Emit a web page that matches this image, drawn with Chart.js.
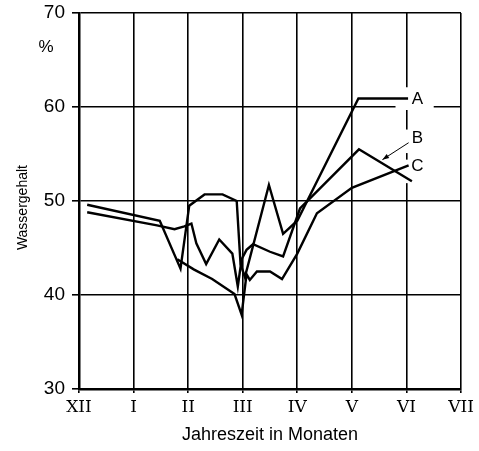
<!DOCTYPE html>
<html>
<head>
<meta charset="utf-8">
<script src="https://cdn.jsdelivr.net/npm/chart.js@4.4.1/dist/chart.umd.min.js"></script>
<style>
  html, body { margin: 0; padding: 0; background: #fff; }
  #wrap { width: 479px; height: 451px; }
</style>
</head>
<body>
<div id="wrap"><canvas id="waterChart" width="479" height="451"></canvas></div>
<script>
// months counted from December (0 = XII, 1 = I, ...)
const monthLabels = ["XII", "I", "II", "III", "IV", "V", "VI", "VII"];
const yTicks = [30, 40, 50, 60, 70];

// curve A
const aX = [0.15, 1.48, 1.86, 2.02, 2.30, 2.63, 2.89, 2.96, 3.04, 3.48, 3.74, 4.00, 5.12, 6.03];
const aY = [49.6, 47.9, 42.8, 49.5, 50.7, 50.7, 50.0, 43.3, 41.9, 51.7, 46.5, 47.9, 60.9, 60.9];

// curve B
const bX = [0.15, 1.43, 1.75, 1.93, 2.06, 2.15, 2.33, 2.57, 2.81, 2.91, 2.98, 3.07, 3.19, 3.50, 3.74, 4.05, 5.13, 6.10];
const bY = [48.8, 47.4, 47.0, 47.3, 47.6, 45.5, 43.3, 45.9, 44.4, 40.9, 43.8, 44.8, 45.4, 44.6, 44.1, 49.2, 55.5, 52.1];

// curve C
const cX = [1.80, 2.11, 2.44, 2.85, 2.98, 3.07, 3.13, 3.26, 3.50, 3.72, 4.00, 4.36, 5.00, 6.04];
const cY = [43.8, 42.7, 41.7, 40.1, 37.9, 42.2, 41.6, 42.5, 42.5, 41.7, 44.4, 48.7, 51.4, 53.8];

function pts(xs, ys) {
  return xs.map((x, i) => ({ x: x, y: ys[i] }));
}

function lineSet(label, xs, ys) {
  return {
    label: label,
    data: pts(xs, ys),
    borderColor: "#000",
    borderWidth: 2.4,
    pointRadius: 0,
    tension: 0,
    fill: false
  };
}

// white breaks in the grid around the curve labels, then the labels themselves
const annotations = {
  id: "annotations",
  beforeDatasetsDraw(chart) {
    const { ctx, scales: { x, y } } = chart;
    const vi = x.getPixelForValue(6);
    ctx.save();
    ctx.fillStyle = "#fff";
    [[62.1, 59.8], [57.6, 55.1], [54.4, 51.9]].forEach(([top, bot]) => {
      const t = y.getPixelForValue(top), b = y.getPixelForValue(bot);
      ctx.fillRect(vi - 3, t, 6, b - t);
    });
    const g0 = x.getPixelForValue(5.8), g1 = x.getPixelForValue(6.5);
    const y60 = y.getPixelForValue(60);
    ctx.fillRect(g0, y60 - 3, g1 - g0, 6);
    ctx.restore();
  },
  afterDatasetsDraw(chart) {
    const { ctx, scales: { x, y }, chartArea } = chart;
    ctx.save();
    ctx.fillStyle = "#000";
    ctx.font = "17px 'Liberation Sans'";
    ctx.textAlign = "center";
    ctx.textBaseline = "middle";
    ctx.fillText("A", x.getPixelForValue(6.2), y.getPixelForValue(60.8));
    ctx.fillText("B", x.getPixelForValue(6.2), y.getPixelForValue(56.7));
    ctx.fillText("C", x.getPixelForValue(6.2), y.getPixelForValue(53.7));
    ctx.fillText("%", chartArea.left - 33, y.getPixelForValue(66.4));

    // y axis title, drawn by hand so it sits a little below the middle
    ctx.save();
    ctx.translate(23, y.getPixelForValue(49.3));
    ctx.rotate(-Math.PI / 2);
    ctx.font = "14px 'Liberation Sans'";
    ctx.fillText("Wassergehalt", 0, 0);
    ctx.restore();

    // arrow pointing at curve B
    const x0 = x.getPixelForValue(6.04), y0 = y.getPixelForValue(56.2);
    const x1 = x.getPixelForValue(5.56), y1 = y.getPixelForValue(54.4);
    ctx.strokeStyle = "#000";
    ctx.lineWidth = 1;
    ctx.beginPath();
    ctx.moveTo(x0, y0);
    ctx.lineTo(x1, y1);
    ctx.stroke();
    const ang = Math.atan2(y1 - y0, x1 - x0);
    ctx.beginPath();
    ctx.moveTo(x1, y1);
    ctx.lineTo(x1 - 7 * Math.cos(ang - 0.35), y1 - 7 * Math.sin(ang - 0.35));
    ctx.lineTo(x1 - 7 * Math.cos(ang + 0.35), y1 - 7 * Math.sin(ang + 0.35));
    ctx.closePath();
    ctx.fill();
    ctx.restore();
  }
};

const ctx = document.getElementById("waterChart").getContext("2d");

new Chart(ctx, {
  type: "line",
  data: {
    datasets: [
      lineSet("A", aX, aY),
      lineSet("B", bX, bY),
      lineSet("C", cX, cY)
    ]
  },
  options: {
    responsive: false,
    animation: false,
    layout: { padding: { left: 0, right: 18, top: 13, bottom: 0 } },
    plugins: {
      legend: { display: false },
      tooltip: { enabled: false }
    },
    scales: {
      x: {
        type: "linear",
        min: 0,
        max: 7,
        afterFit(scale) { scale.height = 62; },
        afterBuildTicks(scale) {
          scale.ticks = monthLabels.map((_, i) => ({ value: i }));
        },
        ticks: {
          color: "#000",
          font: { family: "'DejaVu Serif'", size: 17 },
          padding: 4,
          maxRotation: 0,
          autoSkip: false,
          callback: (v) => monthLabels[v]
        },
        grid: { color: "#000", lineWidth: 1.6, tickLength: 4 },
        border: { color: "#000", width: 2.5 },
        title: {
          display: true,
          text: "Jahreszeit in Monaten",
          color: "#000",
          font: { family: "'Liberation Sans'", size: 18 },
          padding: { top: 2, bottom: 5 }
        }
      },
      y: {
        min: 30,
        max: 70,
        afterFit(scale) {
          scale.width = 79;
          // the top label may overhang; keep the plot top where the original has it
          scale.paddingTop = 0;
          scale.paddingBottom = 0;
        },
        afterBuildTicks(scale) {
          scale.ticks = yTicks.map((v) => ({ value: v }));
        },
        ticks: {
          color: "#000",
          font: { family: "'Liberation Sans'", size: 19 },
          padding: 7
        },
        grid: { color: "#000", lineWidth: 1.6, tickLength: 7 },
        border: { color: "#000", width: 2.5 }
      }
    }
  },
  plugins: [annotations]
});
</script>
</body>
</html>
